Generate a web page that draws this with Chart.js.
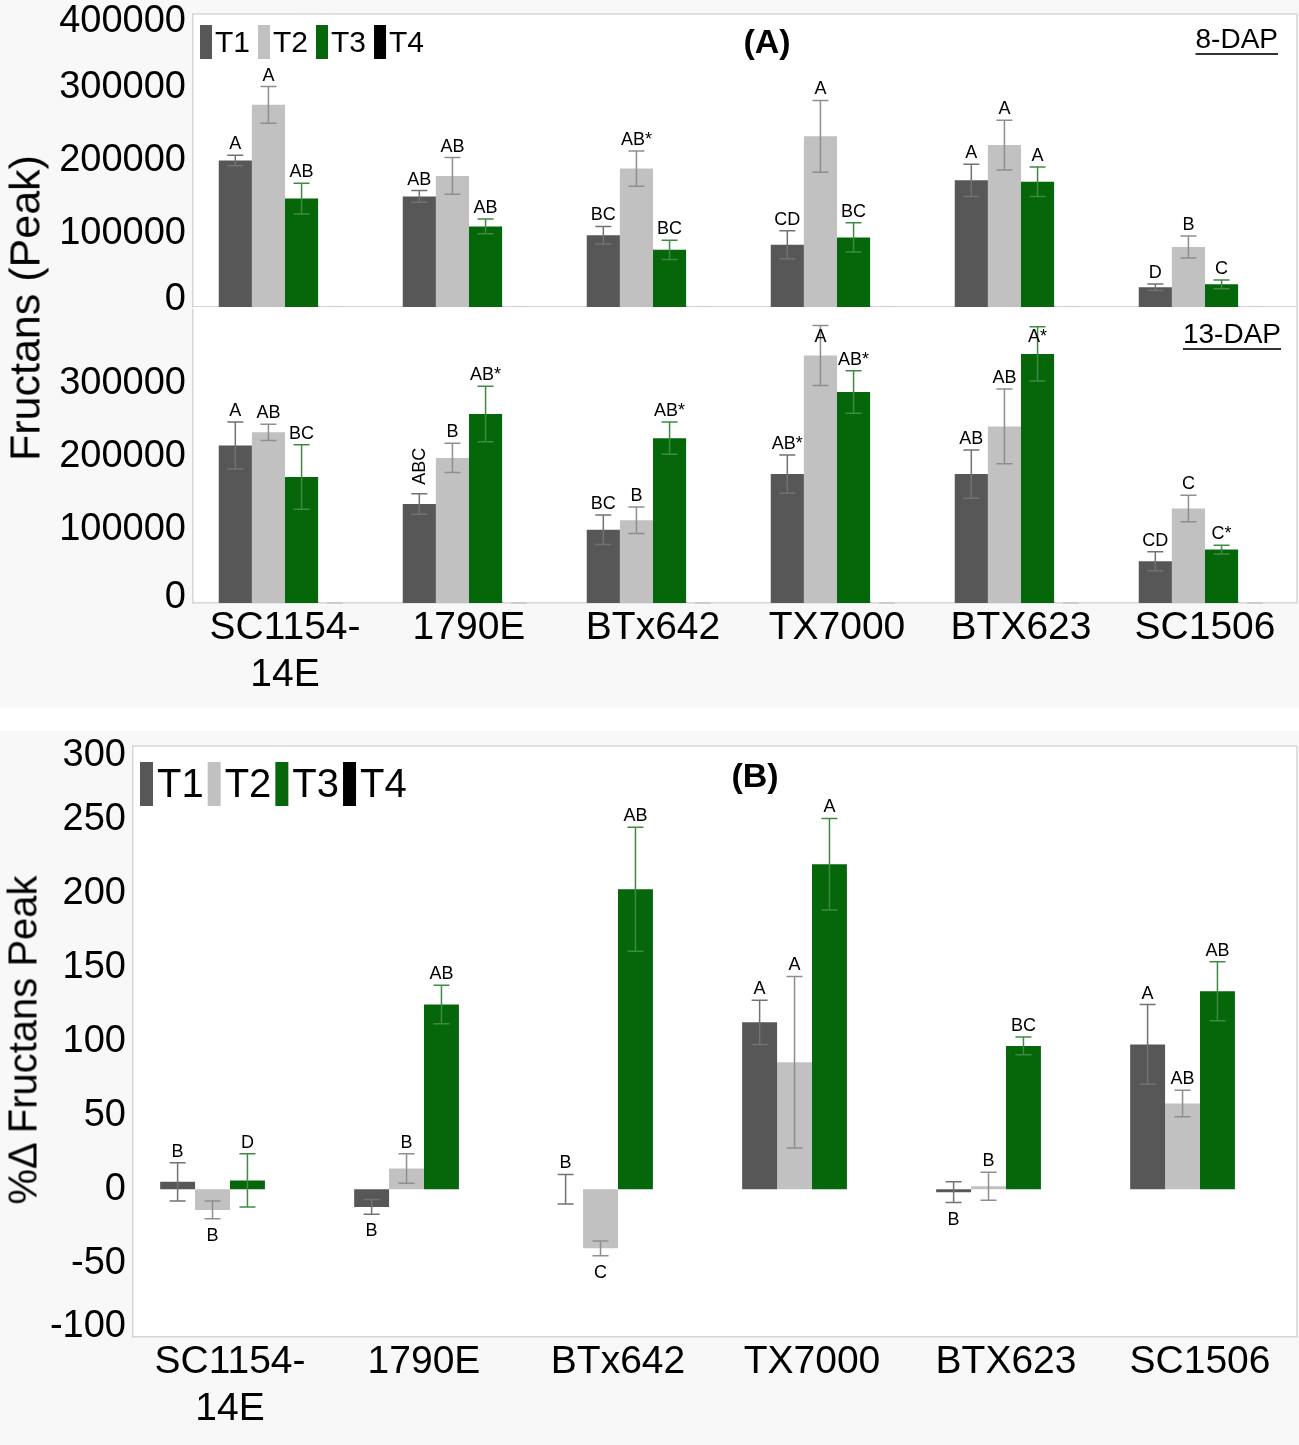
<!DOCTYPE html>
<html>
<head>
<meta charset="utf-8">
<script src="https://cdn.jsdelivr.net/npm/chart.js@4.4.1/dist/chart.umd.min.js"></script>
<style>
  html, body { margin: 0; padding: 0; background: #fff; }
  #fig { position: relative; width: 1299px; height: 1445px; overflow: hidden; font-family: 'Liberation Sans', Arial, Helvetica, sans-serif; }
  .panel { position: absolute; left: 0; width: 1299px; background: #f8f8f8; }
  #panelA { top: 0; height: 708px; }
  #panelB { top: 731px; height: 714px; }
  canvas { position: absolute; left: 0; }
  #chart8 { top: 0; }
  #chart13 { top: 300px; }
  #chartB { top: 731px; }
  .ytitle { position: absolute; white-space: nowrap; color: #000; transform: translate(-50%, -50%) rotate(-90deg); }
  #titleA { left: 25px; top: 308px; font-size: 43px; }
  #titleB { left: 23px; top: 1040px; font-size: 40px; }
</style>
</head>
<body>
<div id="fig">
  <div class="panel" id="panelA"></div>
  <div class="panel" id="panelB"></div>
  <canvas id="chart8" width="1299" height="330"></canvas>
  <canvas id="chart13" width="1299" height="408"></canvas>
  <canvas id="chartB" width="1299" height="714"></canvas>
  <div class="ytitle" id="titleA">Fructans (Peak)</div>
  <div class="ytitle" id="titleB">%Δ Fructans Peak</div>
</div>
<script>
// ---- data ----
const cultivars = [['SC1154-', '14E'], '1790E', 'BTx642', 'TX7000', 'BTX623', 'SC1506'];
const treatments = ['T1', 'T2', 'T3', 'T4'];

// (A) 8-DAP, fructans peak area
const t1Dap8 = [200000, 151000, 98000, 85000, 173000, 27000];
const t2Dap8 = [276000, 179000, 189000, 233000, 221000, 82000];
const t3Dap8 = [148000, 110000, 78000, 95000, 171000, 31000];
const t4Dap8 = [0, 0, 0, 0, 0, 0];
const t1Dap8Err = [7000, 8000, 12000, 19000, 22000, 4500];
const t2Dap8Err = [25000, 25000, 24000, 49000, 34000, 15000];
const t3Dap8Err = [21000, 10000, 13000, 20000, 20000, 6000];
const t4Dap8Err = [0, 0, 0, 0, 0, 0];
const t1Dap8Letters = ['A', 'AB', 'BC', 'CD', 'A', 'D'];
const t2Dap8Letters = ['A', 'AB', 'AB*', 'A', 'A', 'B'];
const t3Dap8Letters = ['AB', 'AB', 'BC', 'BC', 'A', 'C'];

// (A) 13-DAP
const t1Dap13 = [215000, 135000, 100000, 176000, 176000, 57000];
const t2Dap13 = [233000, 198000, 113000, 338000, 241000, 129000];
const t3Dap13 = [172000, 258000, 225000, 288000, 340000, 73000];
const t4Dap13 = [0, 0, 0, 0, 0, 0];
const t1Dap13Err = [32000, 14000, 20000, 26000, 33000, 13000];
const t2Dap13Err = [11000, 20000, 18000, 41000, 51000, 18000];
const t3Dap13Err = [44000, 38000, 22000, 29000, 37000, 6000];
const t4Dap13Err = [0, 0, 0, 0, 0, 0];
const t1Dap13Letters = ['A', 'ABC', 'BC', 'AB*', 'AB', 'CD'];
const t2Dap13Letters = ['AB', 'B', 'B', 'A', 'AB', 'C'];
const t3Dap13Letters = ['BC', 'AB*', 'AB*', 'AB*', 'A*', 'C*'];

// (B) % change in fructans peak
const t1Change = [5, -12, 0, 113, -2, 98];
const t2Change = [-14, 14, -40, 86, 2, 58];
const t3Change = [6, 125, 203, 220, 97, 134];
const t4Change = [0, 0, 0, 0, 0, 0];
const t1ChangeErr = [13, 5, 10, 15, 7, 27];
const t2ChangeErr = [6, 10, 5, 58, 9.5, 9];
const t3ChangeErr = [18, 13, 42, 31, 6, 20];
const t1ChangeLetters = ['B', 'B', 'B', 'A', 'B', 'A'];
const t2ChangeLetters = ['B', 'B', 'C', 'A', 'B', 'AB'];
const t3ChangeLetters = ['D', 'AB', 'AB', 'A', 'BC', 'AB'];

// ---- style ----
const FONT = "'Liberation Sans', Arial, Helvetica, sans-serif";
const barColors = ['#575757', '#c1c1c1', '#05660a', '#000000'];
const errColors = ['#727272', '#8e8e8e', '#3f8a43', '#c8c8c8'];
const axisColor = '#d6d6d6';

Chart.defaults.font.family = FONT;
Chart.defaults.color = '#000';

function barDatasets(series) {
    return series.map((values, k) => ({
        label: treatments[k],
        data: values,
        backgroundColor: barColors[k],
        borderWidth: 0,
        categoryPercentage: 0.72,
        barPercentage: 1
    }));
}

// white plot area + top/right frame lines
function plotFrame(extendTop, sides) {
    return {
        id: 'plotFrame',
        beforeDraw(chart) {
            const { ctx, chartArea: a } = chart;
            ctx.save();
            ctx.fillStyle = '#fff';
            ctx.fillRect(a.left, a.top - extendTop, a.right - a.left, a.bottom - a.top + extendTop);
            ctx.restore();
        },
        afterDraw(chart) {
            const { ctx, chartArea: a } = chart;
            ctx.save();
            ctx.strokeStyle = axisColor;
            ctx.lineWidth = 1.5;
            ctx.beginPath();
            if (sides.includes('top')) { ctx.moveTo(a.left, a.top); ctx.lineTo(a.right, a.top); }
            if (sides.includes('right')) { ctx.moveTo(a.right, a.top - extendTop); ctx.lineTo(a.right, a.bottom); }
            ctx.stroke();
            ctx.restore();
        }
    };
}

// pull the end tick labels of the y axis inwards, like the original plot does
function pullEndLabels(topShift, bottomShift) {
    return {
        id: 'pullEndLabels',
        beforeDraw(chart) {
            const items = chart.scales.y.getLabelItems(chart.chartArea);
            if (!items.length) return;
            items[0].options.translation[1] -= bottomShift;
            items[items.length - 1].options.translation[1] += topShift;
        }
    };
}

// error bars + significance letters
function errorBars(errors, letters, rotated) {
    return {
        id: 'errorBars',
        afterDatasetsDraw(chart) {
            const { ctx, chartArea: area } = chart;
            const y = chart.scales.y;
            const capHalf = 8;
            const capH = 13;
            ctx.save();
            chart.data.datasets.forEach((ds, di) => {
                const meta = chart.getDatasetMeta(di);
                const errs = errors[di];
                const labs = letters[di];
                meta.data.forEach((bar, i) => {
                    const v = ds.data[i];
                    const e = errs ? errs[i] : null;
                    if (e != null) {
                        const hi = y.getPixelForValue(v + e);
                        const lo = y.getPixelForValue(v - e);
                        ctx.strokeStyle = errColors[di];
                        ctx.lineWidth = 1.5;
                        ctx.beginPath();
                        ctx.moveTo(bar.x, hi); ctx.lineTo(bar.x, lo);
                        ctx.moveTo(bar.x - capHalf, hi); ctx.lineTo(bar.x + capHalf, hi);
                        ctx.moveTo(bar.x - capHalf, lo); ctx.lineTo(bar.x + capHalf, lo);
                        ctx.stroke();
                    }
                    if (labs && labs[i]) {
                        ctx.fillStyle = '#000';
                        ctx.font = '18px ' + FONT;
                        const err = e || 0;
                        if (rotated.includes(di + '-' + i)) {
                            const top = y.getPixelForValue(v + err) - 9;
                            ctx.save();
                            ctx.translate(bar.x + 6, top);
                            ctx.rotate(-Math.PI / 2);
                            ctx.textAlign = 'left';
                            ctx.textBaseline = 'alphabetic';
                            ctx.fillText(labs[i], 0, 0);
                            ctx.restore();
                        } else if (v >= 0) {
                            let base = y.getPixelForValue(v + err) - 6;
                            if (base - capH < area.top + 19) base = area.top + 19 + capH;
                            ctx.textAlign = 'center';
                            ctx.textBaseline = 'alphabetic';
                            ctx.fillText(labs[i], bar.x, base);
                        } else {
                            const base = y.getPixelForValue(v - err) + 9 + capH;
                            ctx.textAlign = 'center';
                            ctx.textBaseline = 'alphabetic';
                            ctx.fillText(labs[i], bar.x, base);
                        }
                    }
                });
            });
            ctx.restore();
        }
    };
}

// legend drawn inside the plot area
function insideLegend(o) {
    return {
        id: 'insideLegend',
        afterDraw(chart) {
            const ctx = chart.ctx;
            let x = o.x;
            ctx.save();
            ctx.font = o.size + 'px ' + FONT;
            ctx.textBaseline = 'middle';
            ctx.textAlign = 'left';
            chart.data.datasets.forEach(ds => {
                ctx.fillStyle = ds.backgroundColor;
                ctx.fillRect(x, o.y - o.boxH / 2, o.boxW, o.boxH);
                x += o.boxW + o.gap;
                ctx.fillStyle = '#000';
                ctx.fillText(ds.label, x, o.y + 2);
                x += ctx.measureText(ds.label).width + o.spacing;
            });
            ctx.restore();
        }
    };
}

// panel letters and DAP tags
function panelText(items) {
    return {
        id: 'panelText',
        afterDraw(chart) {
            const ctx = chart.ctx;
            ctx.save();
            items.forEach(t => {
                ctx.font = t.font;
                ctx.fillStyle = '#000';
                ctx.textAlign = t.align;
                ctx.textBaseline = 'middle';
                ctx.fillText(t.text, t.x, t.y);
                if (t.underline) {
                    const w = ctx.measureText(t.text).width;
                    const x0 = t.align === 'right' ? t.x - w : t.x - w / 2;
                    ctx.strokeStyle = '#333';
                    ctx.lineWidth = 2;
                    ctx.beginPath();
                    ctx.moveTo(x0, t.y + t.underline);
                    ctx.lineTo(x0 + w, t.y + t.underline);
                    ctx.stroke();
                }
            });
            ctx.restore();
        }
    };
}

function yScale(min, max, step, width, hideTop) {
    return {
        min: min,
        max: max,
        grid: { display: false, drawTicks: false },
        border: { color: axisColor, width: 1.5 },
        ticks: {
            stepSize: step,
            padding: 7,
            color: '#000',
            font: { size: 38 },
            callback: v => (hideTop && v === max) ? '' : v
        },
        afterFit: s => {
            s.width = width;
            // keep the plot area where the layout padding puts it
            s.paddingTop = 0;
            s.paddingBottom = 0;
        }
    };
}

function xScale(showLabels, height) {
    return {
        type: 'category',
        grid: { display: false, drawTicks: false },
        border: { color: axisColor, width: 1.5 },
        ticks: {
            display: showLabels,
            padding: 2,
            maxRotation: 0,
            autoSkip: false,
            color: '#000',
            font: { size: 39, lineHeight: 1.2 }
        },
        afterFit: s => { s.height = height; }
    };
}

const baseOptions = {
    responsive: false,
    animation: false,
    events: []
};

// (A) 8-DAP
new Chart(document.getElementById('chart8').getContext('2d'), {
    type: 'bar',
    data: {
        labels: cultivars,
        datasets: barDatasets([t1Dap8, t2Dap8, t3Dap8, t4Dap8])
    },
    options: {
        ...baseOptions,
        layout: { padding: { top: 14, right: 2, bottom: 23, left: 0 } },
        plugins: { legend: { display: false }, tooltip: { enabled: false } },
        scales: {
            x: xScale(false, 0),
            y: yScale(0, 400000, 100000, 193, false)
        }
    },
    plugins: [
        plotFrame(0, ['top', 'right']),
        pullEndLabels(8, 7),
        errorBars([t1Dap8Err, t2Dap8Err, t3Dap8Err, t4Dap8Err],
                  [t1Dap8Letters, t2Dap8Letters, t3Dap8Letters, null], []),
        insideLegend({ x: 200, y: 42, boxW: 12, boxH: 34, size: 30, gap: 3, spacing: 8 }),
        panelText([
            { text: '(A)', x: 767, y: 44, font: 'bold 34px ' + FONT, align: 'center' },
            { text: '8-DAP', x: 1278, y: 40, font: '28px ' + FONT, align: 'right', underline: 14 }
        ])
    ]
});

// (A) 13-DAP
new Chart(document.getElementById('chart13').getContext('2d'), {
    type: 'bar',
    data: {
        labels: cultivars,
        datasets: barDatasets([t1Dap13, t2Dap13, t3Dap13, t4Dap13])
    },
    options: {
        ...baseOptions,
        layout: { padding: { top: 10, right: 2, bottom: 0, left: 0 } },
        plugins: { legend: { display: false }, tooltip: { enabled: false } },
        scales: {
            x: xScale(true, 105),
            y: yScale(0, 400000, 100000, 193, true)
        }
    },
    plugins: [
        plotFrame(3, ['right']),
        pullEndLabels(0, 5),
        errorBars([t1Dap13Err, t2Dap13Err, t3Dap13Err, t4Dap13Err],
                  [t1Dap13Letters, t2Dap13Letters, t3Dap13Letters, null], ['0-1']),
        panelText([
            { text: '13-DAP', x: 1281, y: 35, font: '28px ' + FONT, align: 'right', underline: 14 }
        ])
    ]
});

// (B) % change
new Chart(document.getElementById('chartB').getContext('2d'), {
    type: 'bar',
    data: {
        labels: cultivars,
        datasets: barDatasets([t1Change, t2Change, t3Change, t4Change])
    },
    options: {
        ...baseOptions,
        layout: { padding: { top: 15, right: 2, bottom: 0, left: 0 } },
        plugins: { legend: { display: false }, tooltip: { enabled: false } },
        scales: {
            x: xScale(true, 108),
            y: yScale(-100, 300, 50, 133, false)
        }
    },
    plugins: [
        plotFrame(0, ['top', 'right']),
        pullEndLabels(10, 10),
        errorBars([t1ChangeErr, t2ChangeErr, t3ChangeErr, null],
                  [t1ChangeLetters, t2ChangeLetters, t3ChangeLetters, null], []),
        insideLegend({ x: 140, y: 53, boxW: 13, boxH: 44, size: 40, gap: 4, spacing: 4 }),
        panelText([
            { text: '(B)', x: 755, y: 47, font: 'bold 34px ' + FONT, align: 'center' }
        ])
    ]
});
</script>
</body>
</html>
